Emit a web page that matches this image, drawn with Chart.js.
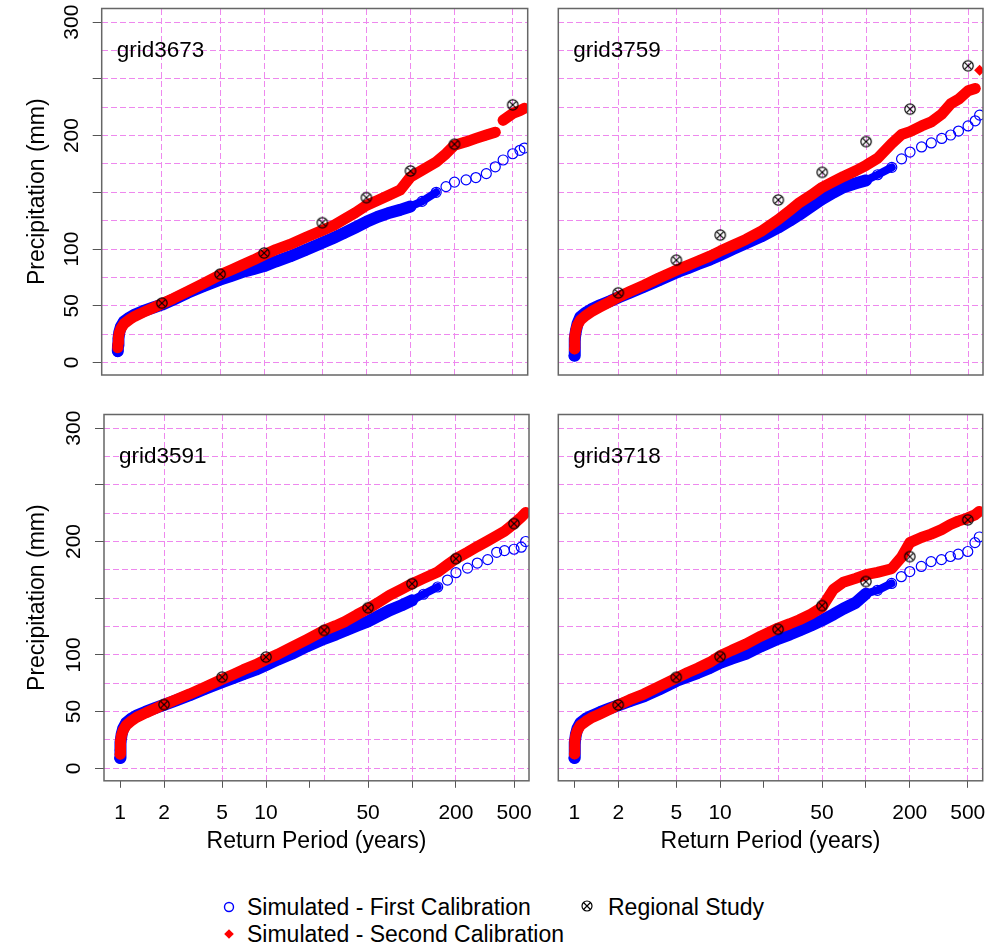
<!DOCTYPE html>
<html>
<head>
<meta charset="utf-8">
<script src="https://cdn.jsdelivr.net/npm/chart.js@4.4.1/dist/chart.umd.min.js"></script>
<style>
  html, body { margin: 0; padding: 0; background: #fff; }
  body { width: 991px; height: 947px; position: relative; overflow: hidden;
         font-family: "Liberation Sans", Arial, sans-serif; }
  .panel { position: absolute; }
  .lg-text { position: absolute; font-size: 23px; line-height: 26px; color: #000; white-space: nowrap; }
  .lg-mark { position: absolute; }
</style>
</head>
<body>

<svg class="lg-mark" style="left:222px;top:900px" width="14" height="14">
  <circle cx="7" cy="7" r="4.5" fill="none" stroke="#0000ff" stroke-width="1.4"/>
</svg>
<div class="lg-text" style="left:247px;top:894px">Simulated - First Calibration</div>
<svg class="lg-mark" style="left:222px;top:927px" width="14" height="14">
  <polygon points="7,2.2 11.8,7 7,11.8 2.2,7" fill="#ff0000"/>
</svg>
<div class="lg-text" style="left:247px;top:921px">Simulated - Second Calibration</div>
<svg class="lg-mark" style="left:580px;top:899px" width="14" height="14">
  <circle cx="7" cy="7" r="5" fill="none" stroke="#000" stroke-width="1.2"/>
  <path d="M3.5 3.5 L10.5 10.5 M10.5 3.5 L3.5 10.5" stroke="#000" stroke-width="1.2"/>
</svg>
<div class="lg-text" style="left:608px;top:894px">Regional Study</div>

<script>
// return periods (years) shared by the simulated series
const returnPeriods = [1.0, 1.003, 1.01, 1.025, 1.05, 1.1, 1.2, 1.3, 1.5, 1.75, 2, 2.4, 3, 3.8, 5, 6, 7, 8.5, 10,
  12, 15, 19, 25, 30, 35, 42, 50, 60, 70, 85, 100, 120, 150, 175, 200, 240, 280, 330, 380, 430, 500, 560, 600];
const regionalPeriods = [2, 5, 10, 25, 50, 100, 200, 500];

// precipitation (mm)
const grid3673First = [10, 15, 21, 27, 31.5, 36, 39.5, 42, 45.5, 48.5, 51, 55.5, 61.5, 67, 73, 76.5, 79.5, 82.5, 85,
  89, 93.5, 99, 105.5, 110, 114, 119, 124, 128.5, 131.5, 134.5, 137.5, 142, 150, 155, 159, 161, 163, 166.5, 172.5, 178.5, 184, 187, 189];
const grid3673Second = [13, 17, 22, 26.5, 30, 34, 37.8, 40.6, 44.4, 48.3, 51.8, 56.5, 62.7, 69.3, 77.3, 81.8, 85.6, 90.5, 95,
  99.5, 104.1, 110, 116.5, 121, 126, 132, 138.5, 143, 147, 152, 163.5, 169.5, 176.8, 184, 191.5, 194.5, 197.5, 200.5, 203, 213.5, 219.5, 222, 224];
const grid3673Regional = [52.3, 77.9, 96.5, 123.2, 145.3, 168.8, 192.4, 227.1];

const grid3759First = [6, 13, 21, 28, 34, 40.2, 44, 46.7, 50.5, 54, 57.3, 61.5, 66.7, 72.5, 79.4, 83.2, 86.7, 90.7, 94.7,
  99.5, 105, 111, 119, 125, 130.5, 137.5, 144, 150, 154.5, 158, 160.5, 165.5, 172, 179.5, 185.5, 190, 193.5, 197.5, 200.5, 204, 208.5, 213, 218];
const grid3759Second = [12, 17, 23, 28.5, 33, 37.3, 41.5, 44.6, 49, 53.5, 57.8, 62.5, 68.1, 74.5, 81.4, 85.6, 89.3, 93.8, 98.2,
  102.8, 108.5, 115.5, 126, 134, 141, 147.5, 154.4, 159.6, 164, 169, 173.8, 180, 193, 201, 203.5, 208.5, 212, 219, 228, 232, 239.5, 241.5, 257.5];
const grid3759Regional = [61.4, 90.2, 112.3, 143.2, 167.6, 194.7, 223.3, 261.5];

const grid3591First = [9, 16, 23, 30, 35, 40, 44, 46.5, 50, 53.2, 56, 59.8, 64.5, 70, 76, 79.8, 83, 87, 91,
  95.8, 101, 107.5, 114.2, 118, 121.6, 125.8, 129.6, 134.8, 139.3, 143.8, 148.1, 153.5, 159.9, 166, 172.5, 176.5, 181, 184, 190.5, 192, 193.2, 195, 200];
const grid3591Second = [12.5, 18, 24, 29.5, 33.5, 37.8, 42, 45, 48.9, 52.8, 56.2, 60.5, 65.6, 71.5, 78.5, 83, 87, 91.5, 96,
  100.5, 106.8, 113.5, 121.6, 125.8, 129.6, 135.5, 140.7, 147, 152.5, 158, 162.8, 167.5, 173.1, 179.5, 184.9, 190.5, 195.5, 200.5, 205, 209, 215.8, 221.5, 225.5];
const grid3591Regional = [56.2, 80.4, 98.1, 121.6, 141.6, 162.8, 184.9, 215.8];

const grid3718First = [9, 16, 23, 30, 35, 40, 43.8, 46, 49.5, 52.8, 55.5, 59.2, 63.5, 69.5, 77, 80.8, 84, 88.5, 93,
  96.8, 101, 107.5, 114.2, 118, 121.6, 126, 130.5, 135.8, 140.7, 146, 154, 157, 163, 169, 173.5, 178, 182.3, 184, 186.8, 188.8, 191.2, 199, 204];
const grid3718Second = [12.7, 18, 24, 29.5, 33.5, 37.8, 41.5, 44.3, 48, 52, 55.9, 60.5, 65.5, 72, 79.5, 84.5, 88.3, 93.5, 99.2,
  104, 109.5, 116.5, 123.7, 127.5, 131, 136, 142, 158, 164, 167.5, 170.8, 172.8, 176, 186, 199, 203.5, 206.5, 210.5, 215, 218, 220.8, 223.5, 226.5];
const grid3718Regional = [55.9, 80.3, 98.5, 122.6, 143.5, 164.7, 186.7, 219.1];

// axis ticks
const xTickValues = [1, 2, 5, 10, 20, 50, 100, 200, 500];
const xTickLabels = [1, 2, 5, 10, 50, 200, 500];
const xGridValues = [2, 5, 10, 25, 50, 100, 200, 500];
const yGridValues = [0, 25, 50, 75, 100, 125, 150, 175, 200, 225, 250, 275, 300];
const yTickMarks = [0, 50, 100, 150, 200, 250, 300];
const yTickLabels = [0, 50, 100, 200, 300];

const BLUE = '#0000ff';
const RED = '#ff0000';
const PINK = '#ee88ee';
const AXIS = '#555555';
const NONE = 'rgba(0,0,0,0)';

Chart.defaults.font.family = '"Liberation Sans", Arial, sans-serif';
Chart.defaults.color = '#000';

const panels = [
  { name: 'grid3673', first: grid3673First, second: grid3673Second, regional: grid3673Regional, left: true, bottom: false,
    box: { left: 0, top: 0, w: 545, h: 390 }, area: { l: 101.7, t: 8.5, r: 527.7, b: 375 } },
  { name: 'grid3759', first: grid3759First, second: grid3759Second, regional: grid3759Regional, left: false, bottom: false,
    box: { left: 530, top: 0, w: 461, h: 390 }, area: { l: 558.3, t: 8.5, r: 983, b: 375 } },
  { name: 'grid3591', first: grid3591First, second: grid3591Second, regional: grid3591Regional, left: true, bottom: true,
    box: { left: 0, top: 390, w: 545, h: 480 }, area: { l: 104, t: 414.5, r: 529, b: 780.8 } },
  { name: 'grid3718', first: grid3718First, second: grid3718Second, regional: grid3718Regional, left: false, bottom: true,
    box: { left: 530, top: 390, w: 461, h: 480 }, area: { l: 558.3, t: 414.5, r: 982.7, b: 780.8 } },
];

const xy = (xs, ys) => xs.map((x, i) => ({ x: x, y: ys[i] }));

function regionalMark() {
  const c = document.createElement('canvas');
  c.width = 14; c.height = 14;
  const g = c.getContext('2d');
  g.strokeStyle = '#000';
  g.lineWidth = 1.2;
  g.beginPath(); g.arc(7, 7, 5.2, 0, Math.PI * 2); g.stroke();
  g.beginPath();
  g.moveTo(3.3, 3.3); g.lineTo(10.7, 10.7);
  g.moveTo(10.7, 3.3); g.lineTo(3.3, 10.7);
  g.stroke();
  return c;
}
const regionalStyle = regionalMark();

// frame around the plot region + panel name
const panelFrame = {
  id: 'panelFrame',
  afterDraw(chart, args, opts) {
    const { ctx, chartArea: a } = chart;
    ctx.save();
    ctx.strokeStyle = '#666';
    ctx.lineWidth = 1.5;
    ctx.strokeRect(a.left, a.top, a.right - a.left, a.bottom - a.top);
    ctx.fillStyle = '#000';
    ctx.font = '22.5px "Liberation Sans", Arial, sans-serif';
    ctx.textBaseline = 'alphabetic';
    ctx.fillText(opts.text, a.left + 15, a.top + 48);
    ctx.restore();
  }
};

function zeroPad(s) {
  s.paddingLeft = 0; s.paddingRight = 0; s.paddingTop = 0; s.paddingBottom = 0;
}

panels.forEach(p => {
  const wrap = document.createElement('div');
  wrap.className = 'panel';
  wrap.style.left = p.box.left + 'px';
  wrap.style.top = p.box.top + 'px';
  wrap.style.width = p.box.w + 'px';
  wrap.style.height = p.box.h + 'px';
  const canvas = document.createElement('canvas');
  canvas.width = p.box.w;
  canvas.height = p.box.h;
  wrap.appendChild(canvas);
  document.body.appendChild(wrap);

  const a = { l: p.area.l - p.box.left, t: p.area.t - p.box.top, r: p.area.r - p.box.left, b: p.area.b - p.box.top };

  new Chart(canvas, {
    type: 'scatter',
    data: {
      datasets: [
        {
          label: 'Regional Study',
          data: xy(regionalPeriods, p.regional),
          pointStyle: regionalStyle,
          pointRadius: 6,
          showLine: false,
          clip: 0,
          order: 0
        },
        {
          label: 'Simulated - Second Calibration',
          data: xy(returnPeriods, p.second),
          showLine: true,
          borderColor: RED,
          borderWidth: 11,
          borderJoinStyle: 'round',
          borderCapStyle: 'round',
          pointStyle: 'rectRot',
          pointRadius: 5.5,
          pointBackgroundColor: RED,
          pointBorderWidth: 0,
          clip: 0,
          order: 1,
          segment: {
            borderColor: ctx => (ctx.p0.parsed.x >= 300 && Math.abs(ctx.p1.parsed.y - ctx.p0.parsed.y) > 9.5) ? NONE : undefined
          }
        },
        {
          label: 'Simulated - First Calibration',
          data: xy(returnPeriods, p.first),
          showLine: true,
          borderColor: BLUE,
          borderWidth: 12,
          borderJoinStyle: 'round',
          borderCapStyle: 'round',
          pointStyle: 'circle',
          pointRadius: 5,
          pointBorderColor: BLUE,
          pointBackgroundColor: NONE,
          pointBorderWidth: 1.2,
          clip: 0,
          order: 2,
          segment: {
            borderColor: ctx => ctx.p0.parsed.x >= 150 ? NONE : undefined,
            borderWidth: ctx => ctx.p0.parsed.x >= 100 ? 8 : undefined
          }
        }
      ]
    },
    options: {
      responsive: false,
      animation: false,
      devicePixelRatio: 1,
      events: [],
      layout: {
        autoPadding: false,
        padding: { left: 0, top: a.t, right: p.box.w - a.r, bottom: p.bottom ? 0 : p.box.h - a.b }
      },
      plugins: {
        legend: { display: false },
        tooltip: { enabled: false },
        panelFrame: { text: p.name }
      },
      scales: {
        x: {
          type: 'logarithmic',
          axis: 'x',
          position: 'bottom',
          display: p.bottom,
          min: 0.776,
          max: 633,
          afterBuildTicks: s => { s.ticks = xTickValues.map(v => ({ value: v })); },
          afterFit: s => { if (p.bottom) s.height = p.box.h - a.b; zeroPad(s); },
          ticks: {
            autoSkip: false,
            minRotation: 0,
            maxRotation: 0,
            padding: 13,
            color: '#000',
            font: { size: 21 },
            callback: v => xTickLabels.includes(v) ? String(v) : ''
          },
          grid: { drawOnChartArea: false, tickLength: 7, tickWidth: 1, tickColor: AXIS },
          border: { display: false },
          title: {
            display: true,
            text: 'Return Period (years)',
            color: '#000',
            font: { size: 23 },
            padding: { top: 0, bottom: 14.5 }
          }
        },
        xg: {
          type: 'logarithmic',
          axis: 'x',
          position: 'top',
          min: 0.776,
          max: 633,
          afterBuildTicks: s => { s.ticks = xGridValues.map(v => ({ value: v })); },
          afterFit: s => { s.height = 0; zeroPad(s); },
          ticks: { display: false },
          grid: { color: PINK, lineWidth: 1, drawTicks: false },
          border: { display: false, dash: [6, 3] }
        },
        y: {
          type: 'linear',
          position: 'left',
          min: -11,
          max: 312,
          afterBuildTicks: s => { s.ticks = yGridValues.map(v => ({ value: v })); },
          afterFit: s => { s.width = a.l; zeroPad(s); },
          ticks: {
            display: p.left,
            autoSkip: false,
            minRotation: 90,
            maxRotation: 90,
            crossAlign: 'center',
            padding: 3,
            color: '#000',
            font: { size: 21 },
            callback: v => yTickLabels.includes(v) ? String(v) : ''
          },
          grid: {
            color: PINK,
            lineWidth: 1,
            drawTicks: p.left,
            tickLength: 9,
            tickWidth: 1,
            tickColor: ctx => (ctx.tick && yTickMarks.includes(ctx.tick.value)) ? AXIS : NONE
          },
          border: { display: false, dash: [6, 3] },
          title: {
            display: p.left,
            text: 'Precipitation (mm)',
            color: '#000',
            font: { size: 23 },
            padding: { top: 24, bottom: 0 }
          }
        }
      }
    },
    plugins: [panelFrame]
  });
});
</script>
</body>
</html>
